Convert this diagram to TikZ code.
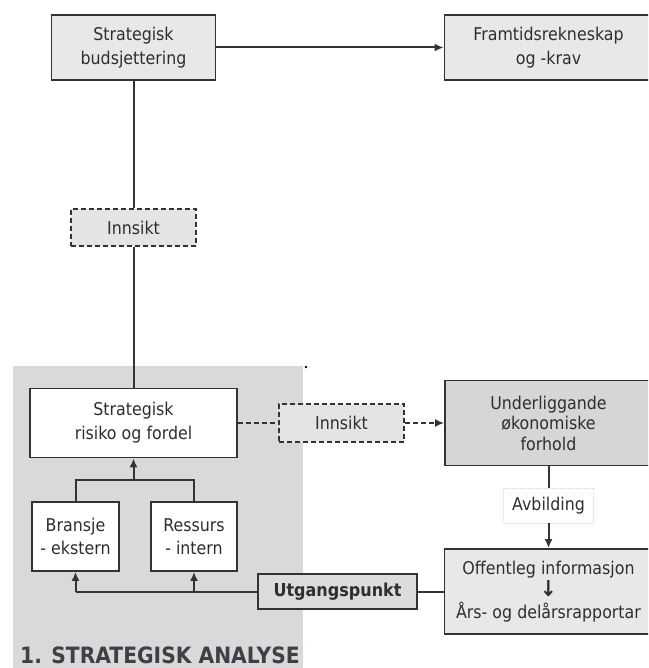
\documentclass[tikz,border=0pt]{standalone}
\usepackage{fontspec}
\setmainfont{DejaVu Sans}[FakeStretch=0.9]
\usetikzlibrary{arrows.meta}
\definecolor{edge}{HTML}{333333}
\definecolor{boxlight}{HTML}{E8E8E8}
\definecolor{boxmid}{HTML}{DCDCDC}
\definecolor{boxdark}{HTML}{D6D6D6}
\definecolor{dashfill}{HTML}{E4E4E4}
\definecolor{panel}{HTML}{D9D9D9}
\definecolor{heading}{HTML}{3C4048}
\definecolor{txt}{HTML}{2E2E2E}

\begin{document}
\begin{tikzpicture}[x=1pt,y=-1pt,
  box/.style={draw=edge, line width=1.8pt, inner sep=0pt, align=center, text=txt,
    font=\fontsize{17.6pt}{24pt}\selectfont},
  dashbox/.style={box, dash pattern=on 5pt off 3pt, line width=2pt, fill=dashfill},
  conn/.style={draw=edge, line width=2pt},
  dconn/.style={conn, dash pattern=on 5pt off 3pt},
  tip/.style={-{Latex[length=9pt,width=8pt]}}
]
\useasboundingbox (0,0) rectangle (648,668);
\clip (0,0) rectangle (648,668);

% shaded panel of the strategic analysis
\fill[panel] (13,366) rectangle (303,670);
\fill[black] (306,367) circle (1.3pt);

% boxes
\node[box, fill=boxlight, minimum width=164pt, minimum height=65pt] (sb) at (133.5,47.5) {Strategisk\\budsjettering};
\node[box, fill=boxlight, minimum width=208pt, minimum height=65pt] (fr) at (548.5,47.5) {Framtidsrekneskap\\og -krav};
\node[dashbox, minimum width=125pt, minimum height=37pt] (ins1) at (133.5,227.5) {Innsikt};
\node[box, fill=white, minimum width=207pt, minimum height=69pt] (sr) at (133.5,423) {Strategisk\\risiko og fordel};
\node[dashbox, minimum width=125pt, minimum height=38pt] (ins2) at (341.5,423) {Innsikt};
\node[box, fill=boxdark, minimum width=207pt, minimum height=85pt,
  font=\fontsize{17.6pt}{20.5pt}\selectfont] (uo) at (548.5,423) {Underliggande\\økonomiske\\forhold};
\node[box, fill=white, draw=black!12, line width=0.6pt, densely dotted, minimum width=90pt, minimum height=35pt] (avb) at (548.5,505.5) {Avbilding};
\node[box, fill=boxlight, minimum width=208pt, minimum height=85pt,
  font=\fontsize{17.6pt}{22pt}\selectfont] (oi) at (548.5,591.5) {Offentleg informasjon\\{\fontsize{22pt}{22pt}\selectfont\textbf{↓}}\\Års- og delårsrapportar};
\node[box, fill=boxmid, minimum width=159pt, minimum height=35pt, font=\fontsize{17.8pt}{22pt}\selectfont\bfseries] (utg) at (337.5,591.5) {Utgangspunkt};
\node[box, fill=white, minimum width=87pt, minimum height=69pt, font=\fontsize{17.6pt}{23pt}\selectfont] (bran) at (75.5,536.5) {Bransje\\- ekstern};
\node[box, fill=white, minimum width=86pt, minimum height=69pt, font=\fontsize{17.6pt}{23pt}\selectfont] (res) at (194,536.5) {Ressurs\\- intern};

\node[anchor=base west, inner sep=0pt, text=heading, font=\fontsize{22.5pt}{26pt}\selectfont\bfseries] (title) at (20,663) {1. STRATEGISK ANALYSE};

% connectors
\draw[conn, tip] (sb) -- (fr);
\draw[conn] (sb) -- (ins1);
\draw[conn] (ins1) -- (sr);
\draw[dconn] (sr) -- (ins2);
\draw[dconn, tip] (ins2) -- (uo);
\draw[conn] (uo) -- (avb);
\draw[conn, tip] (avb) -- (oi);
\draw[conn] (oi) -- (utg);

\coordinate (bar) at (133.5,480);
\draw[conn] (bran.north) |- (bar) -| (res.north);
\draw[conn, tip] (bar) -- (sr.south);

\coordinate (foot) at (bran.south |- utg.west);
\coordinate (branch) at (res.south |- utg.west);
\draw[conn] (utg.west) -- (foot);
\draw[conn, tip] (foot) -- (bran.south);
\draw[conn, tip] (branch) -- (res.south);
\end{tikzpicture}
\end{document}
